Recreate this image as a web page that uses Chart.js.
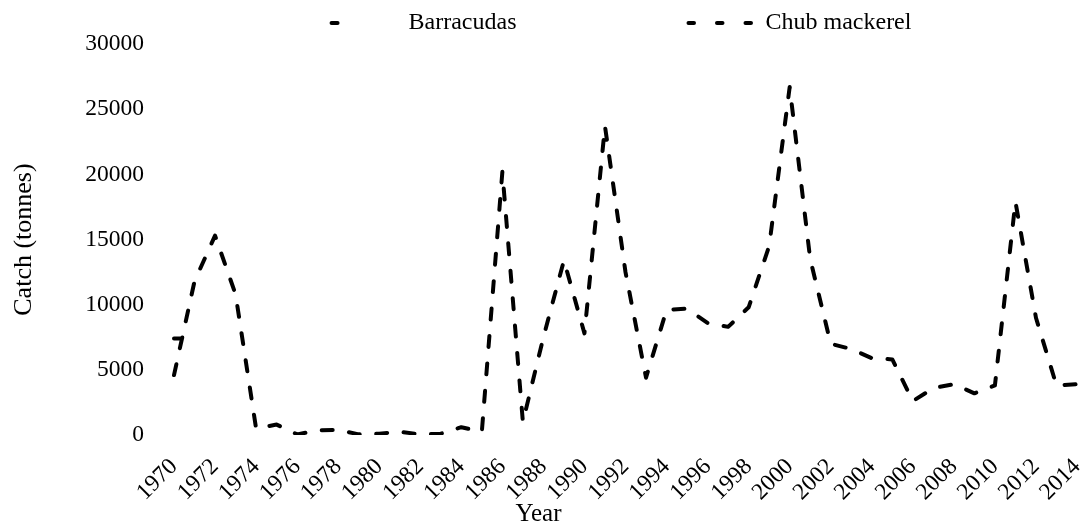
<!DOCTYPE html>
<html lang="en">
<head>
<meta charset="UTF-8">
<title>Catch by year</title>
<script src="https://cdn.jsdelivr.net/npm/chart.js"></script>
<style>
  html, body { margin: 0; padding: 0; background: #fff; }
  #wrap { width: 1083px; height: 527px; }
</style>
</head>
<body>
<div id="wrap"><canvas id="catchChart" width="1083" height="527"></canvas></div>
<script>
// years on the category axis
const years = [
  1970, 1971, 1972, 1973, 1974, 1975, 1976, 1977, 1978, 1979,
  1980, 1981, 1982, 1983, 1984, 1985, 1986, 1987, 1988, 1989,
  1990, 1991, 1992, 1993, 1994, 1995, 1996, 1997, 1998, 1999,
  2000, 2001, 2002, 2003, 2004, 2005, 2006, 2007, 2008, 2009,
  2010, 2011, 2012, 2013, 2014
];
// only every second year is labelled
const tickLabels = [
  1970, 1972, 1974, 1976, 1978, 1980, 1982, 1984, 1986, 1988, 1990, 1992,
  1994, 1996, 1998, 2000, 2002, 2004, 2006, 2008, 2010, 2012, 2014
];

// catch, tonnes
const chubMackerel = [
  4600, 11800, 15300, 10800, 500, 800, 50, 350, 400, 50,
  100, 250, 50, 100, 600, 250, 20200, 1000, 7500, 13400,
  7800, 23700, 12500, 4400, 9600, 9700, 8600, 8300, 9800, 14500,
  26700, 13500, 7000, 6600, 5900, 5800, 2600, 3600, 3900, 3200,
  3800, 17900, 9000, 3800, 3900
];
// barracudas: only the first dash of this line is visible
const barracudas = [7400, 7400];

const FONT = '"Liberation Serif", "Times New Roman", serif';
Chart.defaults.font.family = FONT;
Chart.defaults.color = '#000';

// legend drawn above the plot, centred on the plot area
const topLegend = {
  id: 'topLegend',
  afterDraw(chart) {
    const { ctx, chartArea } = chart;
    const sample = 70, gap = 7, spacing = 172, y = 23;
    ctx.save();
    ctx.font = '24px ' + FONT;
    const items = chart.data.datasets.map(ds => ({
      ds, w: sample + gap + ctx.measureText(ds.label).width
    }));
    const total = items.reduce((s, it) => s + it.w, 0) + spacing * (items.length - 1);
    let x = (chartArea.left + chartArea.right) / 2 - total / 2 - 4;
    items.forEach(({ ds, w }) => {
      ctx.beginPath();
      ctx.setLineDash(ds.legendDash || ds.borderDash);
      ctx.lineWidth = ds.borderWidth;
      ctx.lineCap = ds.borderCapStyle;
      ctx.strokeStyle = ds.borderColor;
      ctx.moveTo(x, y);
      ctx.lineTo(x + sample, y);
      ctx.stroke();
      ctx.setLineDash([]);
      ctx.fillStyle = '#000';
      ctx.textBaseline = 'middle';
      ctx.textAlign = 'left';
      ctx.fillText(ds.label, x + sample + gap, y);
      x += w + spacing;
    });
    ctx.restore();
  }
};

new Chart(document.getElementById('catchChart'), {
  type: 'line',
  data: {
    labels: years,
    datasets: [
      {
        label: 'Barracudas',
        data: barracudas,
        borderColor: '#000',
        borderWidth: 4,
        borderDash: [6, 3000],
        borderCapStyle: 'round',
        pointRadius: 0,
        fill: false
      },
      {
        label: 'Chub mackerel',
        data: chubMackerel,
        borderColor: '#000',
        borderWidth: 4,
        borderDash: [11, 16.5],
        legendDash: [5.5, 23],
        borderCapStyle: 'round',
        borderJoinStyle: 'round',
        pointRadius: 0,
        tension: 0,
        fill: false
      }
    ]
  },
  options: {
    responsive: false,
    animation: false,
    devicePixelRatio: 1,
    layout: { padding: { top: 40, right: 6, bottom: 0, left: 0 } },
    plugins: {
      legend: { display: false },
      tooltip: { enabled: false },
      title: {
        display: true,
        text: 'Year',
        position: 'bottom',
        color: '#000',
        font: { size: 25, weight: 'normal', lineHeight: 1 },
        padding: 0
      }
    },
    scales: {
      x: {
        offset: false,
        grid: { display: false, drawTicks: false },
        border: { display: false },
        ticks: {
          autoSkip: false,
          minRotation: 45,
          maxRotation: 45,
          padding: 28,
          color: '#000',
          font: { size: 23.5, lineHeight: 0.01 },
          callback: (value, index) => tickLabels.includes(years[index]) ? String(years[index]) : ''
        },
        afterFit: scale => {
          scale.height = 67;
          scale.paddingLeft = 0;
          scale.paddingRight = 0;
        }
      },
      y: {
        min: 0,
        max: 30000,
        grid: { display: false, drawTicks: false },
        border: { display: false },
        ticks: {
          stepSize: 5000,
          padding: 30,
          color: '#000',
          font: { size: 23.5 },
          callback: value => String(value)
        },
        title: {
          display: true,
          text: 'Catch (tonnes)',
          color: '#000',
          font: { size: 26, lineHeight: 1 },
          padding: { top: 11, bottom: 0 }
        },
        afterFit: scale => { scale.width = 174; }
      }
    }
  },
  plugins: [topLegend]
});
</script>
</body>
</html>
